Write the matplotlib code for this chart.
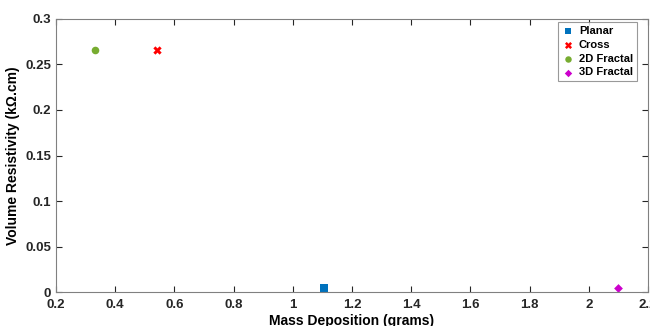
import numpy as np
import matplotlib.pyplot as plt

plt.rcParams['font.family'] = ['Liberation Sans', 'DejaVu Sans']
plt.rcParams['font.weight'] = 'bold'

# Данные
labels = ["Planar", "Cross", "2D Fractal", "3D Fractal"]
mass = [1.105, 0.543, 0.333, 2.100]
resistivity = [0.005, 0.266, 0.266, 0.005]
markers = ["s", "X", "o", "D"]
colors = ["#0072BD", "#FF0000", "#77AC30", "#CC00CC"]
sizes = [28, 36, 30, 20]

fig = plt.figure(figsize=(6.5, 3.26), dpi=100)
ax = fig.add_axes([0.086, 0.104, 0.911, 0.838])

for lab, xv, yv, m, c, s in zip(labels, mass, resistivity, markers, colors, sizes):
    ax.scatter(xv, yv, marker=m, color=c, s=s, label=lab, linewidths=0)

ax.set_xlim(0.2, 2.2)
ax.set_ylim(0, 0.3)
ax.set_xticks(np.arange(0.2, 2.21, 0.2))
ax.set_xticklabels(["0.2", "0.4", "0.6", "0.8", "1", "1.2", "1.4", "1.6", "1.8", "2", "2.2"])
ax.set_yticks([0, 0.05, 0.1, 0.15, 0.2, 0.25, 0.3])
ax.set_yticklabels(["0", "0.05", "0.1", "0.15", "0.2", "0.25", "0.3"])
ax.tick_params(direction="in", top=True, right=True, labelsize=9.5, colors="#262626", length=4)
ax.tick_params(axis="x", pad=5)
for sp in ax.spines.values():
    sp.set_color("#808080")
ax.set_xlabel("Mass Deposition (grams)", fontsize=10, fontweight="bold", labelpad=2)
ax.set_ylabel("Volume Resistivity (kΩ.cm)", fontsize=10, fontweight="bold")

leg = ax.legend(loc="upper right", bbox_to_anchor=(0.981, 0.989), borderaxespad=0,
                fontsize=8, frameon=True, fancybox=False, edgecolor="#808080",
                handlelength=1.0, handletextpad=0.5, borderpad=0.35,
                labelspacing=0.35, markerscale=0.85)
leg.get_frame().set_linewidth(0.8)

fig.savefig("out.png", dpi=100)
